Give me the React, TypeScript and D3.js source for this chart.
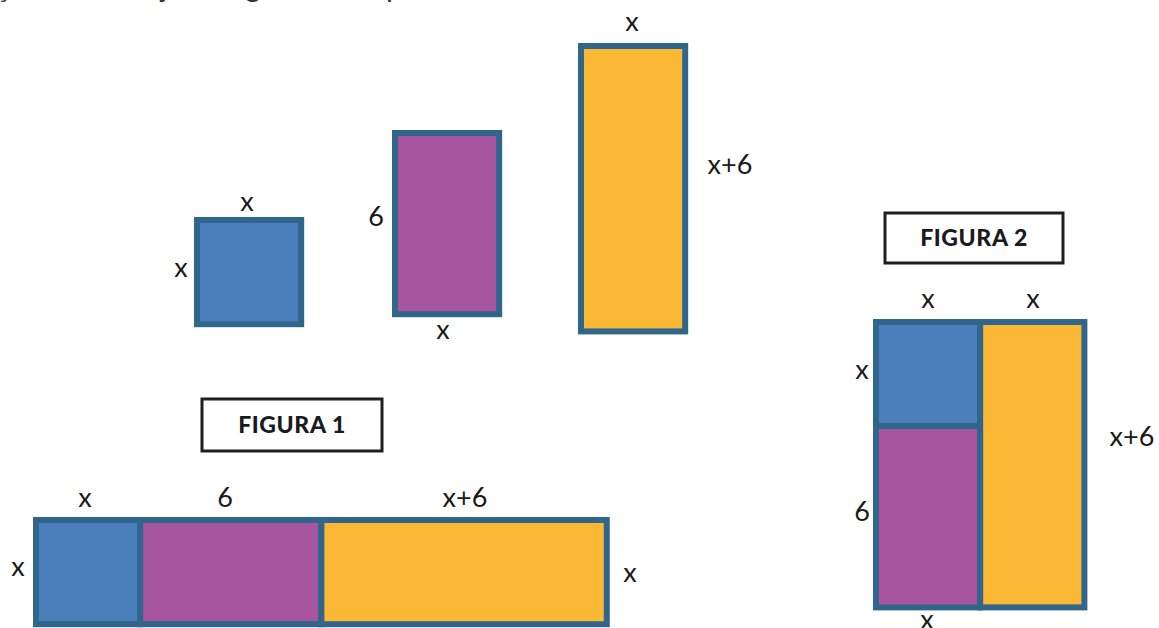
import React from "react";
import * as d3 from "d3";

// Estimated numeric value of the unknown side "x" (in the same units as the side "6")
const X_VALUE = 3.45;
const SIX_VALUE = 6;

// Pieces: [name, width-expression, height-expression]
const pieceNames = ["blue", "purple", "yellow"];
const pieceWidths = ["x", "x", "x"];
const pieceHeights = ["x", "6", "x+6"];
const pieceColors = ["#4a7fbc", "#a8559f", "#fbb835"];

// Figure 1 (strip) sides
const stripWidths = ["x", "6", "x+6"];
const stripHeight = "x";

// Figure labels
const figureTitles = ["FIGURA 1", "FIGURA 2"];

const value = (e: string) => (e === "x" ? X_VALUE : e === "6" ? SIX_VALUE : X_VALUE + SIX_VALUE);

const BORDER = "#30668c";
const FONT = "Lato, 'Open Sans', sans-serif";

export default function App() {
  const s = d3.scaleLinear().domain([0, 1]).range([0, 30.2]);
  const len = (e: string) => s(value(e));

  // top three pieces
  const topOrigins = [
    [197, 220],
    [395, 133],
    [581, 46],
  ];

  // strip
  const stripX0 = 36;
  const stripY0 = 520;
  const stripCum = d3.cumsum(stripWidths.map(len));

  // figure 2
  const f2x = 876;
  const f2y = 322;

  const lbl = (t: string, x: number, y: number, key: string) => (
    <text key={key} x={x} y={y} dy="0.35em" textAnchor="middle" fontFamily={FONT} fontSize={27} fill="#1a1a1a">
      {t}
    </text>
  );

  const rect = (x: number, y: number, w: number, h: number, fill: string, key: string) => (
    <rect key={key} x={x} y={y} width={w} height={h} fill={fill} stroke={BORDER} strokeWidth={6} />
  );

  const titleBox = (t: string, cx: number, cy: number, w: number, h: number, key: string) => (
    <g key={key}>
      <rect x={cx - w / 2} y={cy - h / 2} width={w} height={h} fill="#fff" stroke="#1f1f1f" strokeWidth={3} />
      <text x={cx} y={cy} dy="0.36em" textAnchor="middle" fontFamily={FONT} fontWeight={900} fontSize={23} letterSpacing={0.6} fill="#1a1a1f">
        {t}
      </text>
    </g>
  );

  return (
    <div style={{ position: "fixed", left: 0, top: 0 }}>
      <svg width={1159} height={628} style={{ display: "block", background: "#fff" }}>
        {/* cut-off sentence at top */}
        <text y={-3} fontFamily={FONT} fontSize={30} fill="#333">
          <tspan x={-5}>ção</tspan>
          <tspan x={132}>seja</tspan>
          <tspan x={228}>figura</tspan>
          <tspan x={386}>pela</tspan>
        </text>

        {/* top pieces */}
        {pieceNames.map((n, i) =>
          rect(topOrigins[i][0], topOrigins[i][1], len(pieceWidths[i]), len(pieceHeights[i]), pieceColors[i], "t" + n)
        )}
        {lbl("x", 247, 202, "l1")}
        {lbl("x", 181, 268, "l2")}
        {lbl("6", 376, 217, "l3")}
        {lbl("x", 443, 330, "l4")}
        {lbl("x", 632, 22, "l5")}
        {lbl("x+6", 730, 165, "l6")}

        {/* Figure 1 strip */}
        {stripWidths.map((w, i) =>
          rect(stripX0 + (i === 0 ? 0 : stripCum[i - 1]), stripY0, len(w), len(stripHeight), pieceColors[i], "s" + i)
        )}
        {lbl("x", 85, 498, "s1")}
        {lbl("6", 225, 498, "s2")}
        {lbl("x+6", 465, 498, "s3")}
        {lbl("x", 18, 567, "s4")}
        {lbl("x", 630, 573, "s5")}

        {/* Figure 2 */}
        {rect(f2x, f2y, len("x"), len("x"), pieceColors[0], "f2b")}
        {rect(f2x, f2y + len("x"), len("x"), len("6"), pieceColors[1], "f2p")}
        {rect(f2x + len("x"), f2y, len("x"), len("x+6"), pieceColors[2], "f2y")}
        {lbl("x", 928, 299, "f1")}
        {lbl("x", 1033, 299, "f2")}
        {lbl("x", 862, 370, "f3")}
        {lbl("6", 862, 512, "f4")}
        {lbl("x+6", 1132, 437, "f5")}
        {lbl("x", 927, 620, "f6")}

        {titleBox(figureTitles[0], 292, 425, 180, 52, "tb1")}
        {titleBox(figureTitles[1], 974, 238, 178, 50, "tb2")}
      </svg>
    </div>
  );
}
